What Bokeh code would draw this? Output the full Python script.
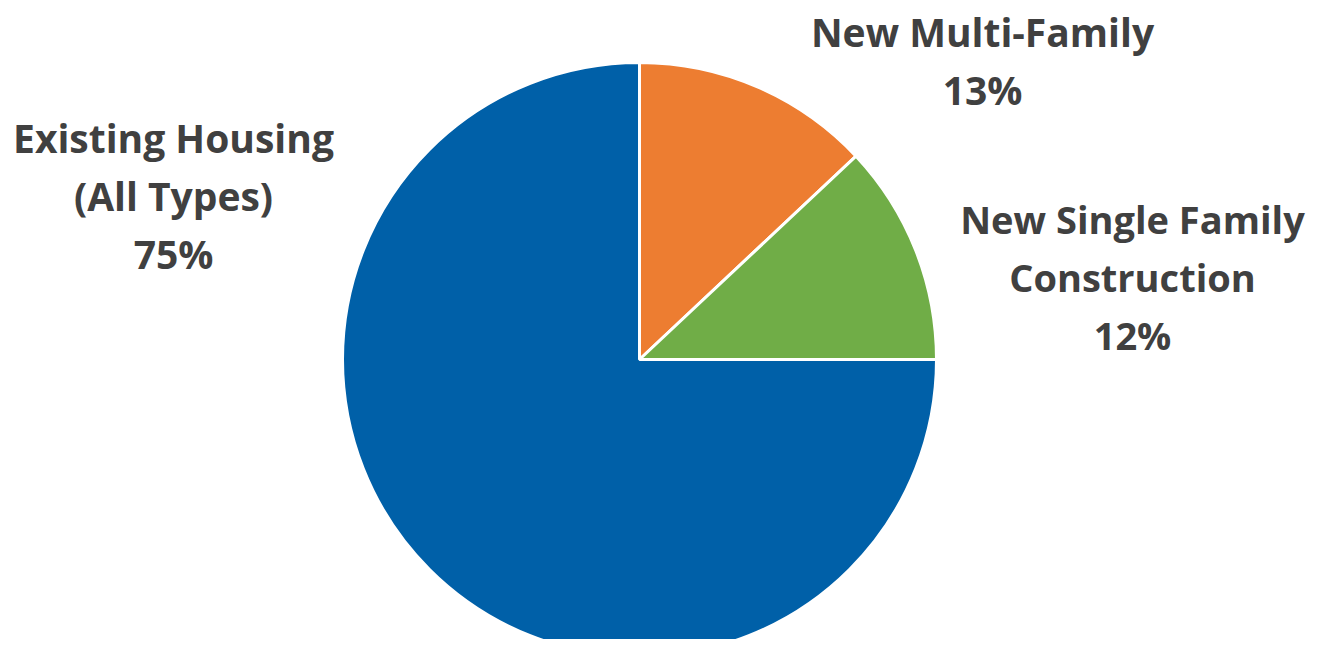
import numpy as np
from bokeh.plotting import figure
from bokeh.models import Range1d
from bokeh.core.properties import value
from bokeh.embed import file_html
from bokeh.resources import INLINE

# ---- data ----
categories = ["New Multi-Family", "New Single Family Construction", "Existing Housing (All Types)"]
shares = [13, 12, 75]
colors = ["#ED7D31", "#70AD47", "#0060A8"]
label_lines = [
    ["New Multi-Family", "13%"],
    ["New Single Family", "Construction", "12%"],
    ["Existing Housing", "(All Types)", "75%"],
]

W, H = 1315, 639

def py(img_y):
    return H - img_y

p = figure(width=W, height=H, output_backend="svg", toolbar_location=None,
           x_range=Range1d(0, W), y_range=Range1d(0, H),
           min_border=0)
p.axis.visible = False
p.grid.visible = False
p.outline_line_color = None
p.background_fill_color = "white"

vals = np.array(shares, dtype=float)
frac = vals / vals.sum()
cum = np.concatenate([[0], np.cumsum(frac)])
start = np.pi / 2 - 2 * np.pi * cum[:-1]
end = np.pi / 2 - 2 * np.pi * cum[1:]

cx, cy, r = 639, py(359), 297
p.wedge(x=[cx] * 3, y=[cy] * 3, radius=r, start_angle=list(start), end_angle=list(end),
        direction="clock", fill_color=colors, line_color="white", line_width=3)

# label anchor positions (image pixels): center x, first line center y
anchors = [(982, 31), (1132, 218), (173, 137)]
sizes = ["39px", "38px", "39px"]
line_gap = 58
for (ax, ay), lines, fs in zip(anchors, label_lines, sizes):
    xs = [ax] * len(lines)
    ys = [py(ay + i * line_gap) for i in range(len(lines))]
    p.text(x=xs, y=ys, text=lines, text_align="center", text_baseline="middle",
           text_font=value("Open Sans"), text_font_style="bold",
           text_font_size=fs, text_color="#404040")

open("out.html", "w").write(file_html(p, INLINE))
